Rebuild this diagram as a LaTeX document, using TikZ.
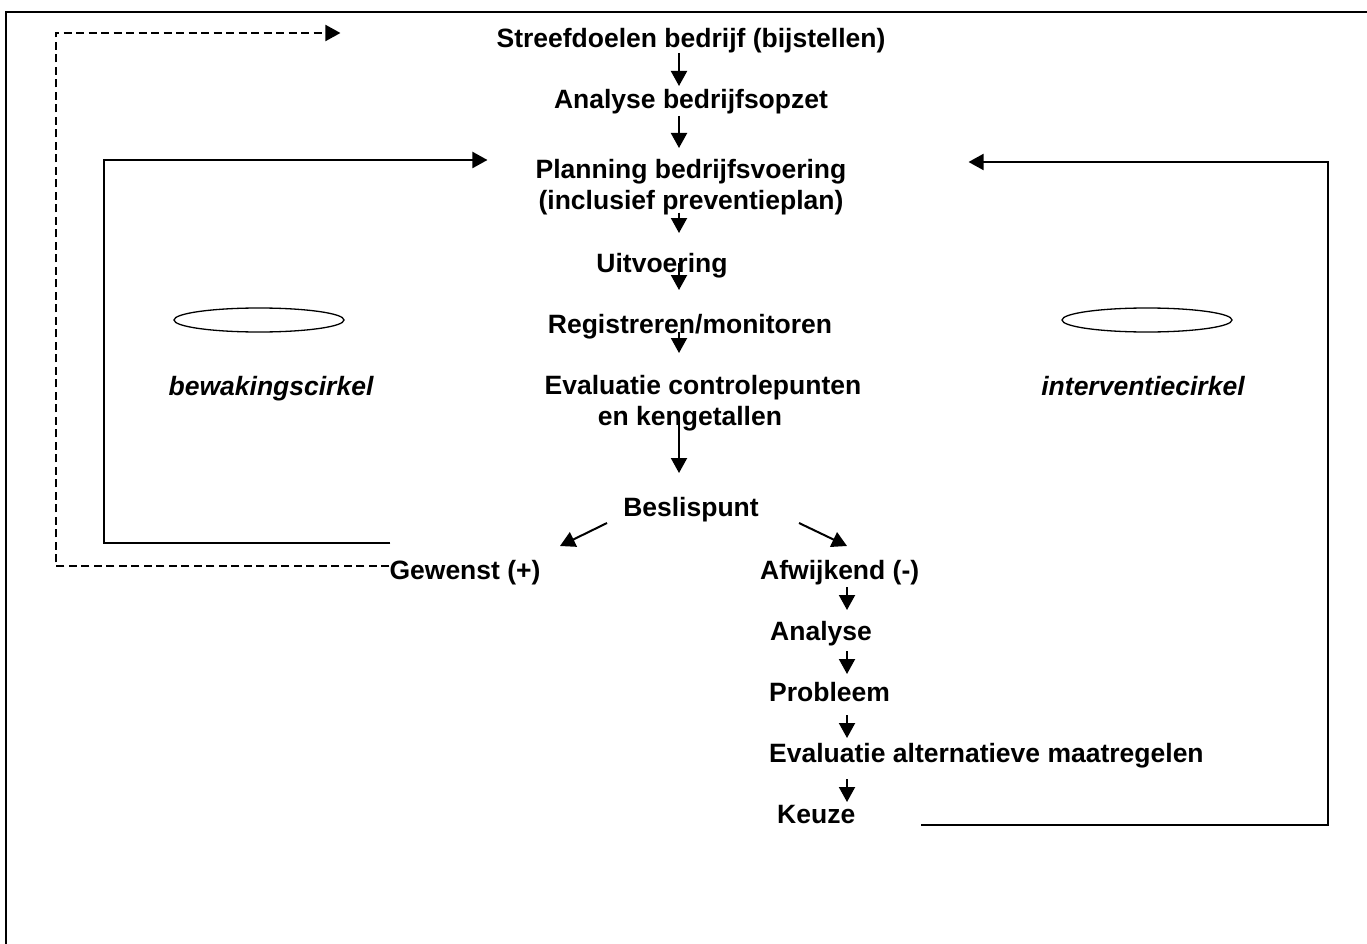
\documentclass[tikz,border=0pt]{standalone}
\usepackage{fontspec}
\setmainfont{Liberation Sans}
\usetikzlibrary{arrows.meta,calc,shapes.geometric}
\begin{document}
\begin{tikzpicture}[x=1pt,y=-1pt,
  lbl/.style={font=\fontsize{26.5}{31.5}\selectfont\bfseries, inner sep=0pt, anchor=base},
  lblw/.style={lbl, anchor=base west},
  cyc/.style={font=\fontsize{26.5}{31.5}\selectfont\bfseries\itshape, inner sep=0pt, anchor=base},
  tip/.style={-{Triangle[width=16pt,length=15pt]}},
  arr/.style={line width=2pt, tip},
  ln/.style={line width=2pt},
  dsh/.style={line width=2pt, dash pattern=on 8pt off 4.5pt},
  ring/.style={draw, line width=1.3pt, ellipse, minimum width=170pt, minimum height=24pt, inner sep=0pt}
]
\useasboundingbox (0,0) rectangle (1367,944);
% frame
\draw[ln] (6,950) -- (6,12) -- (1375,12);

\coordinate (axis) at (679,0);
\coordinate (axis2) at (847,0);
\coordinate (lx) at (104,0);
\coordinate (dx) at (55.5,0);
\coordinate (rx) at (1328,0);

% texts
\node[lbl] (s1) at (691,48) {Streefdoelen bedrijf (bijstellen)};
\node[lbl] (s2) at (691,109) {Analyse bedrijfsopzet};
\node[lbl, align=center, anchor=north] (s3) at (691,159) {Planning bedrijfsvoering\\(inclusief preventieplan)};
\node[lbl] (s4) at (662,272) {Uitvoering};
\node[lbl] (s5) at (690,333) {Registreren/monitoren};
\node[lbl, align=center, anchor=north] (s6) at (703,375) {Evaluatie controlepunten\\en kengetallen\hspace*{26pt}};
\node[lbl] (s7) at (691,516) {Beslispunt};
\node[lbl] (g) at (465,579) {Gewenst (+)};
\node[lblw] (a) at (760,579) {Afwijkend (-)};
\node[lblw] (b1) at (770,640) {Analyse};
\node[lblw] (b2) at (769,701) {Probleem};
\node[lblw] (b3) at (769,762) {Evaluatie alternatieve maatregelen};
\node[lblw] (b4) at (777,823) {Keuze};

\node[cyc] (bw) at (271,395) {bewakingscirkel};
\node[cyc] (iv) at (1143,395) {interventiecirkel};
\node[ring] (e1) at (259,320) {};
\node[ring] (e2) at (1147,320) {};

% central arrows
\draw[arr] ($(s1.base -| axis)+(0,5)$) -- ($(s2.base -| axis)+(0,-23)$);
\draw[arr] ($(s2.base -| axis)+(0,7)$) -- ($(s3.north -| axis)+(0,-11)$);
\draw[arr] ($(s3.south -| axis)+(0,-3)$) -- ($(s4.base -| axis)+(0,-39)$);
\draw[arr] ($(s4.base -| axis)+(0,-9)$) -- ($(s5.base -| axis)+(0,-43)$);
\draw[arr] ($(s5.base -| axis)+(0,-1)$) -- ($(s6.north -| axis)+(0,-22)$);
\draw[arr] ($(s6.south -| axis)+(0,-8)$) -- ($(s7.base -| axis)+(0,-43)$);
\draw[arr] ($(s7.base)+(-84,7)$) -- ($(g.base)+(95,-33)$);
\draw[arr] ($(s7.base)+(108,7)$) -- ($(a.base west)+(87,-33)$);

% right column arrows
\draw[arr] ($(a.base -| axis2)+(0,8)$) -- ($(b1.base -| axis2)+(0,-30)$);
\draw[arr] ($(b1.base -| axis2)+(0,11)$) -- ($(b2.base -| axis2)+(0,-27)$);
\draw[arr] ($(b2.base -| axis2)+(0,14)$) -- ($(b3.base -| axis2)+(0,-24)$);
\draw[arr] ($(b3.base -| axis2)+(0,17)$) -- ($(b4.base -| axis2)+(0,-21)$);

% loops
\coordinate (gs) at ($(g.base west)+(1,-36)$);
\coordinate (pt) at ($(s3.north west)+(-48,1)$);
\draw[arr] (gs) -- (gs -| lx) -- (lx |- pt) -- (pt);

\coordinate (gd) at ($(g.base west)+(0,-13)$);
\coordinate (st) at ($(s1.base west)+(-156,-15)$);
\draw[dsh, tip] (gd) -- (gd -| dx) -- (dx |- st) -- (st);

\coordinate (ks) at ($(b4.base east)+(66,2)$);
\coordinate (pe) at ($(s3.north east)+(122,3)$);
\draw[arr] (ks) -- (ks -| rx) -- (rx |- pe) -- (pe);
\end{tikzpicture}
\end{document}
